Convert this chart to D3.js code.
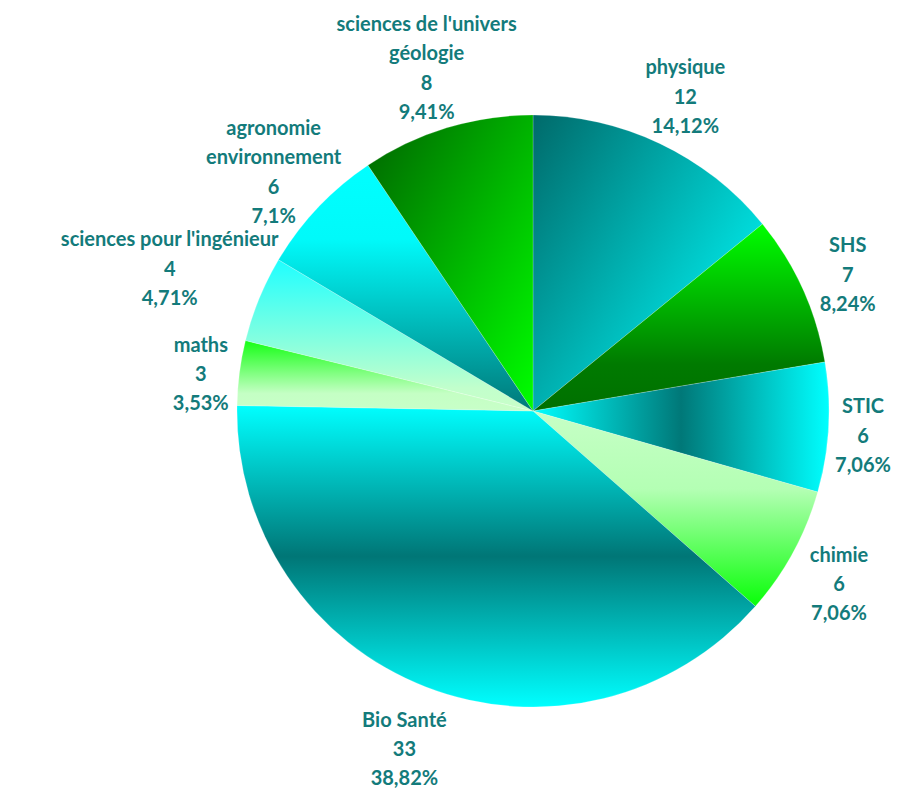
<!DOCTYPE html>
<html><head><meta charset="utf-8">
<script src="https://cdn.jsdelivr.net/npm/d3@7"></script>
<style>body{margin:0;background:#fff}svg{display:block}</style>
</head><body>
<svg id="c" width="899" height="794"></svg>
<script>
const categories = ["physique","SHS","STIC","chimie","Bio Santé","maths","sciences pour l'ingénieur","agronomie\nenvironnement","sciences de l'univers\ngéologie"];
const values = [12,7,6,6,33,3,4,6,8];
const percentLabels = ["14,12%","8,24%","7,06%","7,06%","38,82%","3,53%","4,71%","7,1%","9,41%"];
// gradient definitions: [x1,y1,x2,y2, [offset,color]...]
const gradients = [
  [0,0,1,0.8,[[0,"#006a6a"],[0.85,"#00e4e4"],[1,"#00eaea"]]],
  [0,0,0,1,[[0,"#00ff00"],[0.75,"#007a00"],[1,"#007000"]]],
  [0,0,1,0,[[0,"#00ffff"],[0.5,"#007878"],[1,"#00ffff"]]],
  [0,0,0,1,[[0,"#c6ffc6"],[0.4,"#b4ffb4"],[1,"#08ff08"]]],
  [0,0,0,1,[[0,"#00ffff"],[0.5,"#007676"],[1,"#00ffff"]]],
  [0,0,0,1,[[0,"#14ff14"],[0.75,"#c4ffc4"],[1,"#c8ffc8"]]],
  [0,0,0,1,[[0,"#1effff"],[0.85,"#c2ffcc"],[1,"#c8ffc8"]]],
  [0,0,0,1,[[0,"#00ffff"],[0.3,"#00fafa"],[1,"#007878"]]],
  [0,0,1,1,[[0,"#006400"],[1,"#00ff00"]]]
];
const W=899,H=794, cx=533, cy=411, R=296;
const textColor="#137b7b", fontSize=20, lineH=29.3, labelDy=6;

const svg=d3.select("#c");
const defs=svg.append("defs");
gradients.forEach((g,i)=>{
  const lg=defs.append("linearGradient").attr("id","g"+i)
    .attr("x1",g[0]).attr("y1",g[1]).attr("x2",g[2]).attr("y2",g[3]);
  g[4].forEach(s=>lg.append("stop").attr("offset",s[0]).attr("stop-color",s[1]));
});
const pie=d3.pie().sort(null).value(d=>d)(values);
const arc=d3.arc().innerRadius(0).outerRadius(R);
const g=svg.append("g").attr("transform",`translate(${cx},${cy})`);
g.selectAll("path").data(pie).enter().append("path")
  .attr("d",arc).attr("fill",(d,i)=>`url(#g${i})`)
  .attr("stroke","#ffffff").attr("stroke-width",0.4).attr("stroke-opacity",0.5);

// labels
const lab=g.append("g").attr("font-family","Lato, 'Open Sans', sans-serif")
  .attr("font-weight","bold").attr("font-size",fontSize).attr("fill",textColor).attr("text-anchor","middle");
const gap=8;
pie.forEach((d,i)=>{
  const lines=categories[i].split("\n").concat([String(values[i]),percentLabels[i]]);
  const n=lines.length;
  const lg=lab.append("g");
  const boxes=[];
  lines.forEach((t,k)=>{
    const oy=(k-(n-1)/2)*lineH;
    const te=lg.append("text").attr("x",0).attr("y",oy+fontSize*0.36).text(t);
    const w=te.node().getComputedTextLength();
    boxes.push({oy,hw:w/2,hh:fontSize*0.55});
  });
  const a=(d.startAngle+d.endAngle)/2;
  const ux=Math.sin(a), uy=-Math.cos(a);
  const minDist=(t)=>{
    const x=ux*t,y=uy*t;let m=1e9;
    boxes.forEach(b=>{
      const bx=x, by=y+b.oy;
      const nx=Math.max(bx-b.hw,Math.min(0,bx+b.hw));
      const ny=Math.max(by-b.hh,Math.min(0,by+b.hh));
      m=Math.min(m,Math.hypot(nx,ny));
    });
    return m;
  };
  let t=R;
  while(minDist(t)<R+gap && t<R+400) t+=0.5;
  lg.attr("transform",`translate(${ux*t},${uy*t+labelDy})`);
});
</script>
</body></html>
